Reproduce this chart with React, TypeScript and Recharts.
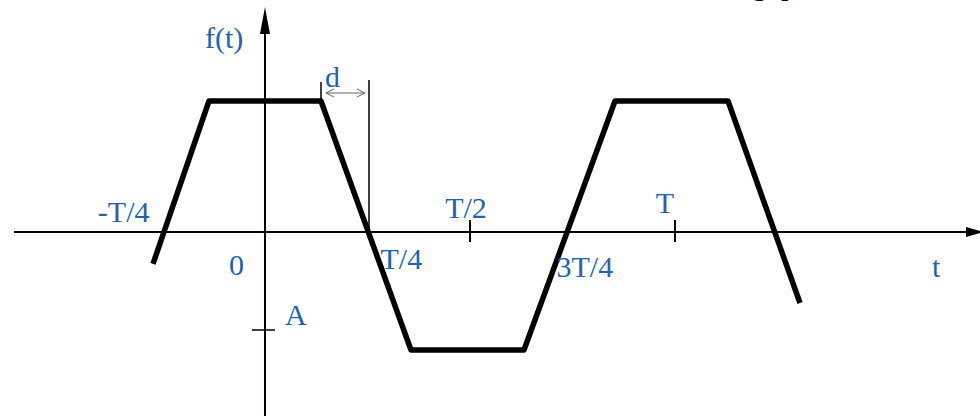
import React from 'react';
import { LineChart, Line, XAxis, YAxis, ReferenceLine, ReferenceDot } from 'recharts';

// waveform vertices: time in units of T, value in units of the positive plateau
const waveT = [-0.2732, -0.1366, 0.1366, 0.3561, 0.6317, 0.8537, 1.1293, 1.3049];
const waveF = [-0.244, 1.0, 1.0, -0.901, -0.901, 1.0, 1.0, -0.542];

// t-axis tick labels
const tickValues = [-0.25, 0, 0.25, 0.5, 0.75, 1];
const tickLabels = ['-T/4', '0', 'T/4', 'T/2', '3T/4', 'T'];
const markedTicks = [0.5, 1];

// amplitude marker on f-axis
const ampLevel = -0.748;
const ampLabel = 'A';

// rise/fall width "d"
const dStart = 0.1366;
const dEnd = 0.2537;
const dLabel = 'd';

const axisNames = ['t', 'f(t)'];
const titleFragments = ['g', 'p'];

// ---- layout / style (pixels) ----
const W = 980;
const H = 416;
const X_DOMAIN: [number, number] = [-0.6463, 1.7439];
const Y_DOMAIN: [number, number] = [-1.4046, 1.771];
const PX_T = 410; // px per T
const PX_F = 131; // px per unit f
const BLUE = '#2163b3';
const FONT = '"Liberation Serif", "Times New Roman", serif';

const tickLabelLayout = [
  { dx: -13, dy: -10, anchor: 'end' },
  { dx: -21, dy: 43, anchor: 'end' },
  { dx: 13, dy: 37, anchor: 'start' },
  { dx: -4, dy: -14, anchor: 'middle' },
  { dx: -16, dy: 45, anchor: 'start' },
  { dx: -10, dy: -19, anchor: 'middle' },
];

const data = waveT.map((t, i) => ({ t, f: waveF[i] }));

const textShape = (label: string, dx: number, dy: number, anchor: string, fill = BLUE) =>
  (p: any) => (
    <text
      x={p.cx + dx}
      y={p.cy + dy}
      textAnchor={anchor as any}
      fontFamily={FONT}
      fontSize={30}
      fill={fill}
    >
      {label}
    </text>
  );

export default function App() {
  const xLeft = X_DOMAIN[0] + 14 / PX_T;
  const xArrowBase = X_DOMAIN[0] + 967 / PX_T;
  const yBottom = Y_DOMAIN[0];
  const yArrowBase = Y_DOMAIN[1] - 33 / PX_F;
  const tickHalfUp = 12 / PX_F;
  const tickHalfDown = 10 / PX_F;

  return (
    <div style={{ position: 'absolute', left: 0, top: 0, width: W, height: H, background: '#fff' }}>
      <LineChart width={W} height={H} data={data} margin={{ top: 0, right: 0, bottom: 0, left: 0 }}>
        <XAxis dataKey="t" type="number" domain={X_DOMAIN} allowDataOverflow hide />
        <YAxis type="number" domain={Y_DOMAIN} allowDataOverflow hide />

        {/* horizontal axis */}
        <ReferenceLine
          segment={[{ x: xLeft, y: 0 }, { x: xArrowBase, y: 0 }]}
          stroke="#000"
          strokeWidth={2}
          ifOverflow="visible"
        />
        <ReferenceDot
          x={xArrowBase}
          y={0}
          ifOverflow="visible"
          shape={(p: any) => (
            <polygon
              points={`${p.cx - 1},${p.cy - 5} ${p.cx + 16},${p.cy} ${p.cx - 1},${p.cy + 5}`}
              fill="#000"
            />
          )}
        />
        {/* vertical axis */}
        <ReferenceLine
          segment={[{ x: 0, y: yBottom }, { x: 0, y: yArrowBase }]}
          stroke="#000"
          strokeWidth={2}
          ifOverflow="visible"
        />
        <ReferenceDot
          x={0}
          y={yArrowBase}
          ifOverflow="visible"
          shape={(p: any) => (
            <polygon
              points={`${p.cx - 5},${p.cy + 1} ${p.cx},${p.cy - 26} ${p.cx + 5},${p.cy + 1}`}
              fill="#000"
            />
          )}
        />

        {/* tick marks on t axis */}
        {markedTicks.map((v) => (
          <ReferenceLine
            key={`tm${v}`}
            segment={[{ x: v, y: tickHalfUp }, { x: v, y: -tickHalfDown }]}
            stroke="#000"
            strokeWidth={2}
            ifOverflow="visible"
          />
        ))}
        {/* amplitude tick */}
        <ReferenceLine
          segment={[{ x: -13 / PX_T, y: ampLevel }, { x: 10 / PX_T, y: ampLevel }]}
          stroke="#000"
          strokeWidth={1.5}
          ifOverflow="visible"
        />

        {/* d dimension */}
        <ReferenceLine
          segment={[{ x: dStart, y: 1.0 }, { x: dStart, y: 1.0 + 19 / PX_F }]}
          stroke="#000"
          strokeWidth={1.5}
          ifOverflow="visible"
        />
        <ReferenceLine
          segment={[{ x: dEnd, y: 0 }, { x: dEnd, y: 152 / PX_F }]}
          stroke="#000"
          strokeWidth={1.5}
          ifOverflow="visible"
        />
        <ReferenceLine
          segment={[{ x: dStart + 5 / PX_T, y: 139 / PX_F }, { x: dEnd - 4 / PX_T, y: 139 / PX_F }]}
          stroke="#666"
          strokeWidth={1}
          ifOverflow="visible"
        />
        <ReferenceDot
          x={dStart + 5 / PX_T}
          y={139 / PX_F}
          ifOverflow="visible"
          shape={(p: any) => (
            <polyline
              points={`${p.cx + 8},${p.cy - 4} ${p.cx},${p.cy} ${p.cx + 8},${p.cy + 4}`}
              fill="none"
              stroke="#666"
              strokeWidth={1}
            />
          )}
        />
        <ReferenceDot
          x={dEnd - 4 / PX_T}
          y={139 / PX_F}
          ifOverflow="visible"
          shape={(p: any) => (
            <polyline
              points={`${p.cx - 8},${p.cy - 4} ${p.cx},${p.cy} ${p.cx - 8},${p.cy + 4}`}
              fill="none"
              stroke="#666"
              strokeWidth={1}
            />
          )}
        />

        {/* waveform */}
        <Line
          dataKey="f"
          type="linear"
          stroke="#000"
          strokeWidth={5.5}
          strokeLinejoin="round"
          dot={false}
          activeDot={false}
          isAnimationActive={false}
        />

        {/* tick labels */}
        {tickValues.map((v, i) => (
          <ReferenceDot
            key={`tl${i}`}
            x={v}
            y={0}
            ifOverflow="visible"
            shape={textShape(tickLabels[i], tickLabelLayout[i].dx, tickLabelLayout[i].dy, tickLabelLayout[i].anchor)}
          />
        ))}
        {/* amplitude label */}
        <ReferenceDot x={0} y={ampLevel} ifOverflow="visible" shape={textShape(ampLabel, 20, -5, 'start')} />
        {/* d label */}
        <ReferenceDot x={dStart} y={1.0} ifOverflow="visible" shape={textShape(dLabel, 4, -14, 'start')} />
        {/* axis names */}
        <ReferenceDot x={X_DOMAIN[0] + 932 / PX_T} y={0} ifOverflow="visible" shape={textShape(axisNames[0], 0, 45, 'start')} />
        <ReferenceDot x={0} y={yArrowBase} ifOverflow="visible" shape={textShape(axisNames[1], -60, 15, 'start')} />
        {/* cut-off title fragments at top edge (only their descenders show, as in the reference) */}
        <ReferenceDot x={X_DOMAIN[0] + 752 / PX_T} y={Y_DOMAIN[1]} ifOverflow="visible" shape={textShape(titleFragments[0], 0, -5, 'start', '#000')} />
        <ReferenceDot x={X_DOMAIN[0] + 781 / PX_T} y={Y_DOMAIN[1]} ifOverflow="visible" shape={textShape(titleFragments[1], 0, -5, 'start', '#000')} />
      </LineChart>
    </div>
  );
}
